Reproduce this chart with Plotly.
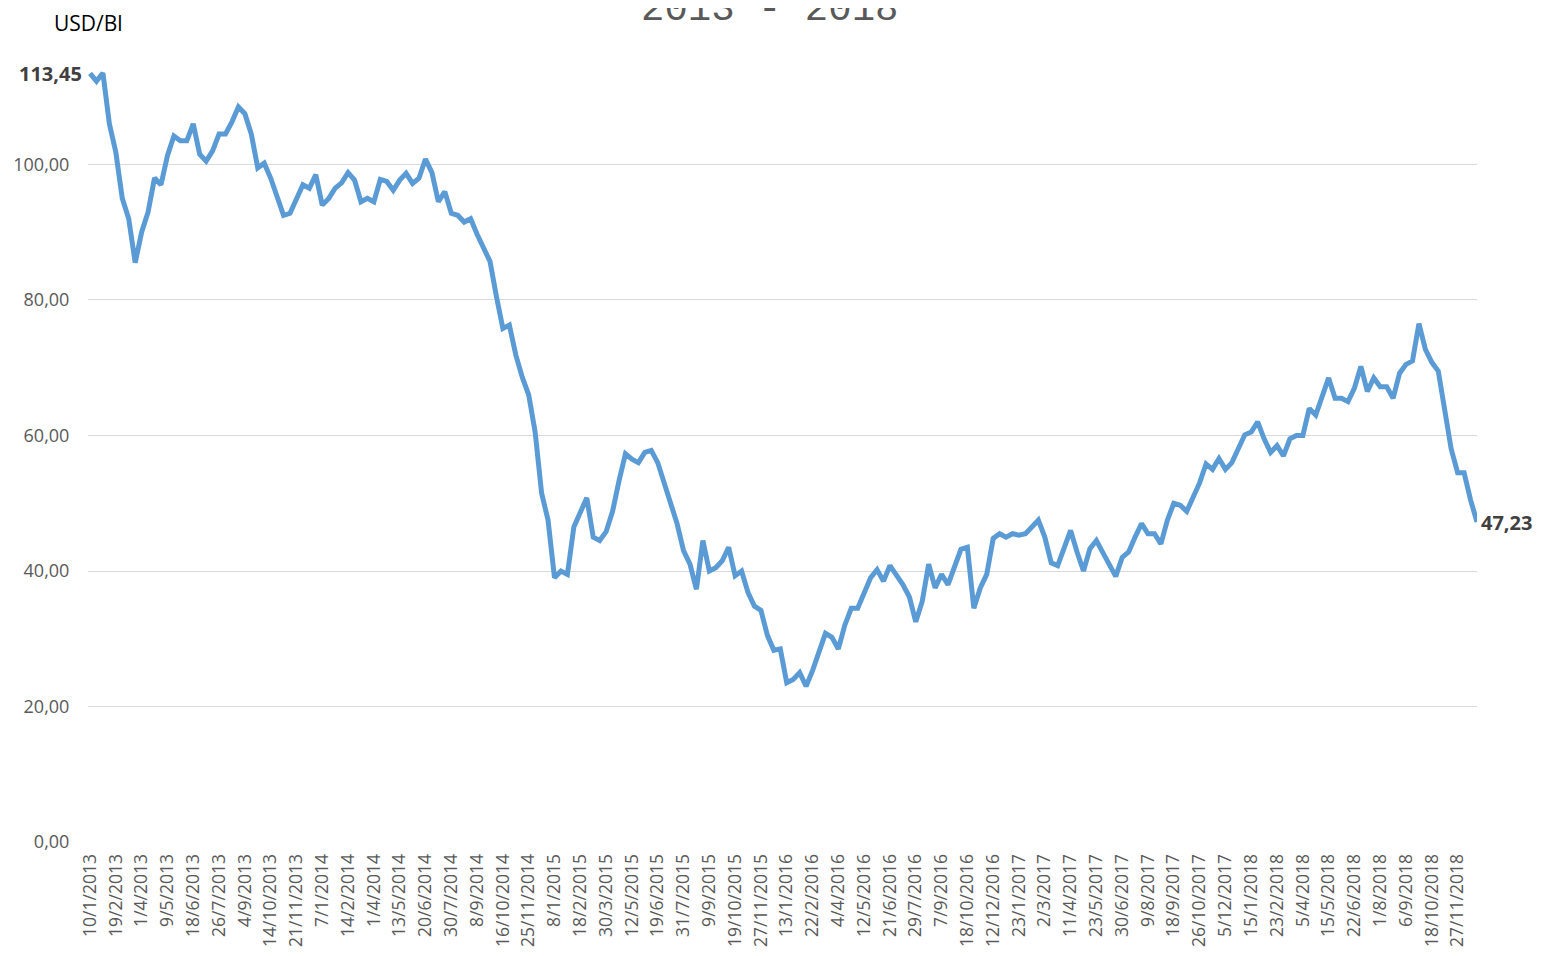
import numpy as np
import plotly.graph_objects as go

TITLE = "2013 - 2018"
UNIT = "USD/Bl"
STEP = 7  # trading days between sampled values
TICK_EVERY = 28  # trading days between category labels

TICK_LABELS = [
    "10/1/2013", "19/2/2013", "1/4/2013", "9/5/2013", "18/6/2013", "26/7/2013",
    "4/9/2013", "14/10/2013", "21/11/2013", "7/1/2014", "14/2/2014", "1/4/2014",
    "13/5/2014", "20/6/2014", "30/7/2014", "8/9/2014", "16/10/2014", "25/11/2014",
    "8/1/2015", "18/2/2015", "30/3/2015", "12/5/2015", "19/6/2015", "31/7/2015",
    "9/9/2015", "19/10/2015", "27/11/2015", "13/1/2016", "22/2/2016", "4/4/2016",
    "12/5/2016", "21/6/2016", "29/7/2016", "7/9/2016", "18/10/2016", "12/12/2016",
    "23/1/2017", "2/3/2017", "11/4/2017", "23/5/2017", "30/6/2017", "9/8/2017",
    "18/9/2017", "26/10/2017", "5/12/2017", "15/1/2018", "23/2/2018", "5/4/2018",
    "15/5/2018", "22/6/2018", "1/8/2018", "6/9/2018", "18/10/2018", "27/11/2018",
]

PRICES = [
    113.45, 112.3, 113.5, 106, 101.8, 95, 92, 85.5, 90, 93,
    98, 97, 101.3, 104.2, 103.5, 103.5, 106, 101.5, 100.5, 102,
    104.5, 104.5, 106.3, 108.5, 107.5, 104.5, 99.5, 100.2, 98, 95.2,
    92.5, 92.8, 95, 97, 96.5, 98.5, 94, 95, 96.5, 97.3,
    98.8, 97.7, 94.5, 95, 94.5, 97.8, 97.5, 96.2, 97.7, 98.7,
    97.2, 98, 100.8, 98.8, 94.5, 96, 92.8, 92.5, 91.5, 92,
    89.7, 87.5, 85.7, 80.5, 75.8, 76.3, 71.9, 68.6, 66, 60.5,
    51.5, 47.5, 39, 40, 39.5, 46.5, 48.5, 50.8, 45, 44.5,
    45.8, 48.8, 53.3, 57.3, 56.5, 56, 57.5, 57.8, 56, 53,
    50.2, 47, 43, 41, 37.3, 44.5, 40, 40.5, 41.5, 43.5,
    39.3, 40, 36.8, 34.8, 34.2, 30.5, 28.3, 28.5, 23.5, 24,
    25, 23, 25.3, 28, 30.8, 30.2, 28.5, 32, 34.5, 34.5,
    37, 39, 40.2, 38.5, 40.8, 39.5, 38, 36.2, 32.5, 35.5,
    41, 37.5, 39.5, 38, 40.5, 43.2, 43.5, 34.5, 37.5, 39.5,
    44.8, 45.5, 45, 45.5, 45.3, 45.5, 46.5, 47.5, 45, 41.2,
    40.8, 43.2, 46, 42.8, 40, 43.3, 44.5, 42.7, 41, 39.2,
    42, 42.8, 45, 47, 45.5, 45.5, 44, 47.5, 50, 49.7,
    48.8, 50.7, 53, 55.8, 55, 56.6, 55, 56, 58.2, 60.1,
    60.5, 62, 59.5, 57.5, 58.5, 57, 59.5, 60, 60, 64,
    63, 66, 68.5, 65.5, 65.5, 65, 67, 70.2, 66.5, 68.5,
    67.2, 67.2, 65.5, 69.2, 70.5, 71, 76.5, 72.7, 70.8, 69.5,
    63.8, 58, 54.5, 54.5, 50.5, 47.23,
]

Y_TICKS = [0, 20, 40, 60, 80, 100]

LINE_COLOR = "#5B9BD5"
TEXT_GREY = "#595959"
FONT = "Open Sans"


def fmt(v):
    return f"{v:.2f}".replace(".", ",")


x = np.arange(len(PRICES)) * STEP
tickvals = [i * TICK_EVERY for i in range(len(TICK_LABELS))]

fig = go.Figure()
fig.add_trace(go.Scatter(
    x=x, y=PRICES, mode="lines",
    line=dict(color=LINE_COLOR, width=5),
    hoverinfo="skip", showlegend=False,
))

fig.add_annotation(x=x[0], y=PRICES[0], xref="x", yref="y", text=f"<b>{fmt(PRICES[0])}</b>",
                   showarrow=False, xanchor="right", yanchor="middle", xshift=-6,
                   font=dict(family=FONT, size=20, color="#404040"))
fig.add_annotation(x=x[-1], y=PRICES[-1], xref="x", yref="y", text=f"<b>{fmt(PRICES[-1])}</b>",
                   showarrow=False, xanchor="left", yanchor="middle", xshift=2,
                   font=dict(family=FONT, size=20, color="#404040"))
fig.add_annotation(x=0.491, y=1.0406, xref="paper", yref="paper", text=TITLE,
                   showarrow=False, xanchor="center", yanchor="middle",
                   font=dict(family="Liberation Mono", size=39, color=TEXT_GREY))
fig.add_annotation(x=-0.0259, y=1.0238, xref="paper", yref="paper", text=UNIT,
                   showarrow=False, xanchor="left", yanchor="middle",
                   font=dict(family=FONT, size=21, color="#000000"))

fig.update_layout(
    width=1543, height=956,
    margin=dict(l=80, r=74, t=34, b=122, autoexpand=False),
    paper_bgcolor="white", plot_bgcolor="white",
    font=dict(family=FONT, color=TEXT_GREY),
    hovermode=False,
)
fig.update_xaxes(
    range=[-2.2, x[-1]], tickmode="array", tickvals=tickvals, ticktext=TICK_LABELS,
    tickangle=-90, tickfont=dict(family=FONT, size=17.5, color=TEXT_GREY),
    showgrid=False, zeroline=False, showline=False,
    ticks="outside", ticklen=4, tickcolor="rgba(0,0,0,0)",
)
fig.update_yaxes(
    range=[0, 118.08], tickmode="array", tickvals=Y_TICKS, ticktext=[fmt(v) for v in Y_TICKS],
    tickfont=dict(family=FONT, size=18, color=TEXT_GREY),
    showgrid=True, gridcolor="#D9D9D9", gridwidth=1,
    zeroline=False, showline=False,
    ticks="outside", ticklen=14, tickcolor="rgba(0,0,0,0)",
)

fig.write_html("out.html")
